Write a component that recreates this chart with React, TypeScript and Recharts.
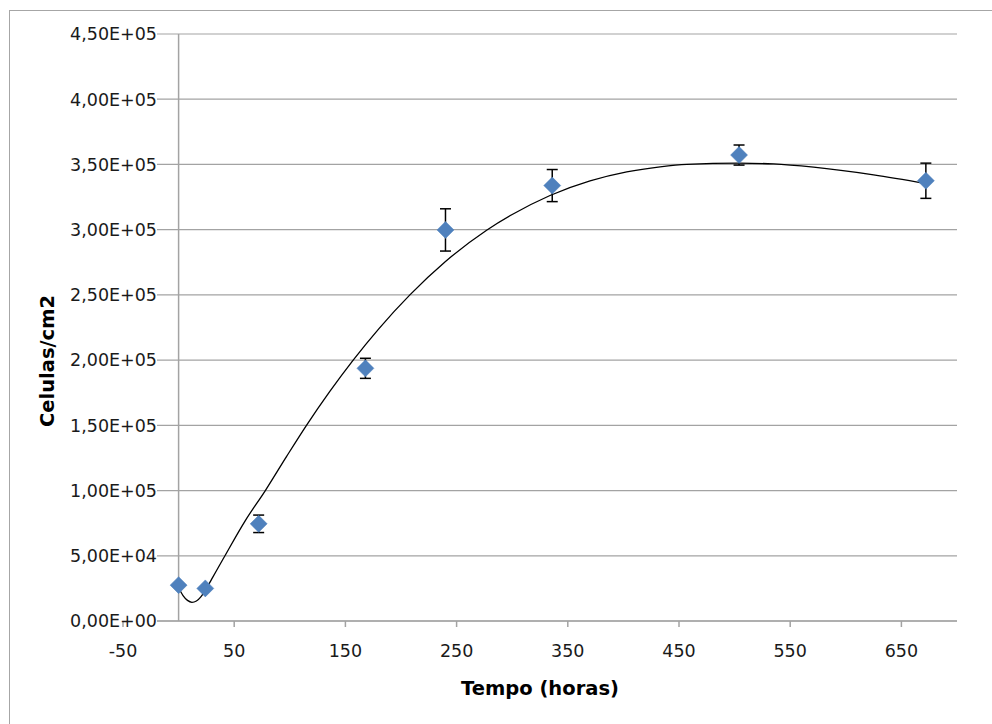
import React from 'react';
import {
  ComposedChart,
  Scatter,
  Line,
  XAxis,
  YAxis,
  CartesianGrid,
  ErrorBar,
  ReferenceLine,
} from 'recharts';

// Measured points: time (hours), cells/cm2, error (±)
const times = [0, 24, 72, 168, 240, 336, 504, 672];
const cells = [27500, 25000, 74500, 193700, 299800, 333800, 357200, 337500];
const errors = [800, 800, 6700, 7700, 16200, 12300, 7700, 13500];

// Trendline
const trendTimes = [0, 4, 8, 12, 16, 20, 24, 30, 40, 60, 78, 97, 115, 136, 157, 180, 208, 240, 277, 300, 334, 370, 403, 433, 457, 504, 535, 571, 625, 672];
const trendCells = [25500, 19500, 15800, 14300, 15300, 18500, 23500, 32500, 47500, 77000, 100000, 126000, 150000, 176000, 200000, 224000, 250000, 275600, 299600, 311600, 326200, 337400, 344300, 348200, 350100, 351000, 350400, 347900, 342000, 335400];

const xTicks = [-50, 50, 150, 250, 350, 450, 550, 650];
const yTicks = [0, 50000, 100000, 150000, 200000, 250000, 300000, 350000, 400000, 450000];
const yTickLabels = ['0,00E+00', '5,00E+04', '1,00E+05', '1,50E+05', '2,00E+05', '2,50E+05', '3,00E+05', '3,50E+05', '4,00E+05', '4,50E+05'];

const points = times.map((t, i) => ({ x: t, y: cells[i], err: errors[i] }));
const trend = trendTimes.map((t, i) => ({ x: t, y: trendCells[i] }));

const FONT = '"DejaVu Sans", Verdana, sans-serif';
const GRID = '#a3a3a3';

const Diamond = (props: any) => {
  const { cx, cy } = props;
  if (cx == null || cy == null) return null;
  const r = 8.5;
  return (
    <path
      d={`M${cx},${cy - r} L${cx + r},${cy} L${cx},${cy + r} L${cx - r},${cy} Z`}
      fill="#4f81bd"
      stroke="#4f81bd"
      strokeWidth={0.5}
    />
  );
};

const NoShape = () => <g />;

const YTick = (props: any) => {
  const { x, y, index } = props;
  const label = yTickLabels[index] ?? '';
  const right = x + 34;
  return (
    <g>
      <rect x={right - 90} y={y - 7} width={90} height={8} fill="#fff" />
      <text
        x={right}
        y={y}
        dy="0.36em"
        textAnchor="end"
        fontFamily={FONT}
        fontSize={17.5}
        fill="#1a1a1a"
      >
        {label}
      </text>
    </g>
  );
};

export default function App() {
  return (
    <div
      style={{
        position: 'absolute',
        left: 0,
        top: 0,
        width: 992,
        height: 724,
        overflow: 'hidden',
        background: '#fff',
      }}
    >
      <div
        style={{
          position: 'absolute',
          left: 9,
          top: 10,
          width: 1200,
          height: 1200,
          border: '1.5px solid #a6a6a6',
          boxSizing: 'border-box',
        }}
      />
      <div style={{ position: 'absolute', left: 0, top: 0 }}>
        <ComposedChart
          width={992}
          height={724}
          margin={{ top: 34, right: 35, bottom: 73, left: 63 }}
        >
          <CartesianGrid horizontal vertical={false} stroke={GRID} strokeWidth={1.2} />
          <YAxis
            type="number"
            dataKey="y"
            domain={[0, 450000]}
            ticks={yTicks}
            width={60}
            axisLine={false}
            tickLine={false}
            tickSize={0}
            tickMargin={0}
            tick={<YTick />}
            interval={0}
          />
          <XAxis
            type="number"
            dataKey="x"
            domain={[-50, 700]}
            ticks={xTicks}
            interval={0}
            height={30}
            axisLine={{ stroke: GRID, strokeWidth: 1.5 }}
            tickLine={{ stroke: GRID, strokeWidth: 1.5 }}
            tickSize={6}
            tickMargin={18}
            tick={{ fontFamily: FONT, fontSize: 17.5, fill: '#1a1a1a' }}
            allowDataOverflow
          />
          <ReferenceLine x={0} stroke={GRID} strokeWidth={1.5} />
          <Scatter data={points} dataKey="y" shape={<NoShape />} isAnimationActive={false}>
            <ErrorBar dataKey="err" direction="y" width={5.5} stroke="#000" strokeWidth={1.5} />
          </Scatter>
          <Scatter data={points} dataKey="y" shape={<Diamond />} isAnimationActive={false} />
          <Line
            data={trend}
            dataKey="y"
            type="monotone"
            dot={false}
            activeDot={false}
            stroke="#000"
            strokeWidth={1.3}
            isAnimationActive={false}
          />
        </ComposedChart>
      </div>
      <div
        style={{
          position: 'absolute',
          left: 540,
          top: 688,
          transform: 'translate(-50%, -50%)',
          fontFamily: FONT,
          fontWeight: 'bold',
          fontSize: 19.5,
          color: '#000',
          whiteSpace: 'nowrap',
        }}
      >
        Tempo (horas)
      </div>
      <div
        style={{
          position: 'absolute',
          left: 47,
          top: 361,
          transform: 'translate(-50%, -50%) rotate(-90deg)',
          fontFamily: FONT,
          fontWeight: 'bold',
          fontSize: 19.5,
          color: '#000',
          whiteSpace: 'nowrap',
        }}
      >
        Celulas/cm2
      </div>
    </div>
  );
}
